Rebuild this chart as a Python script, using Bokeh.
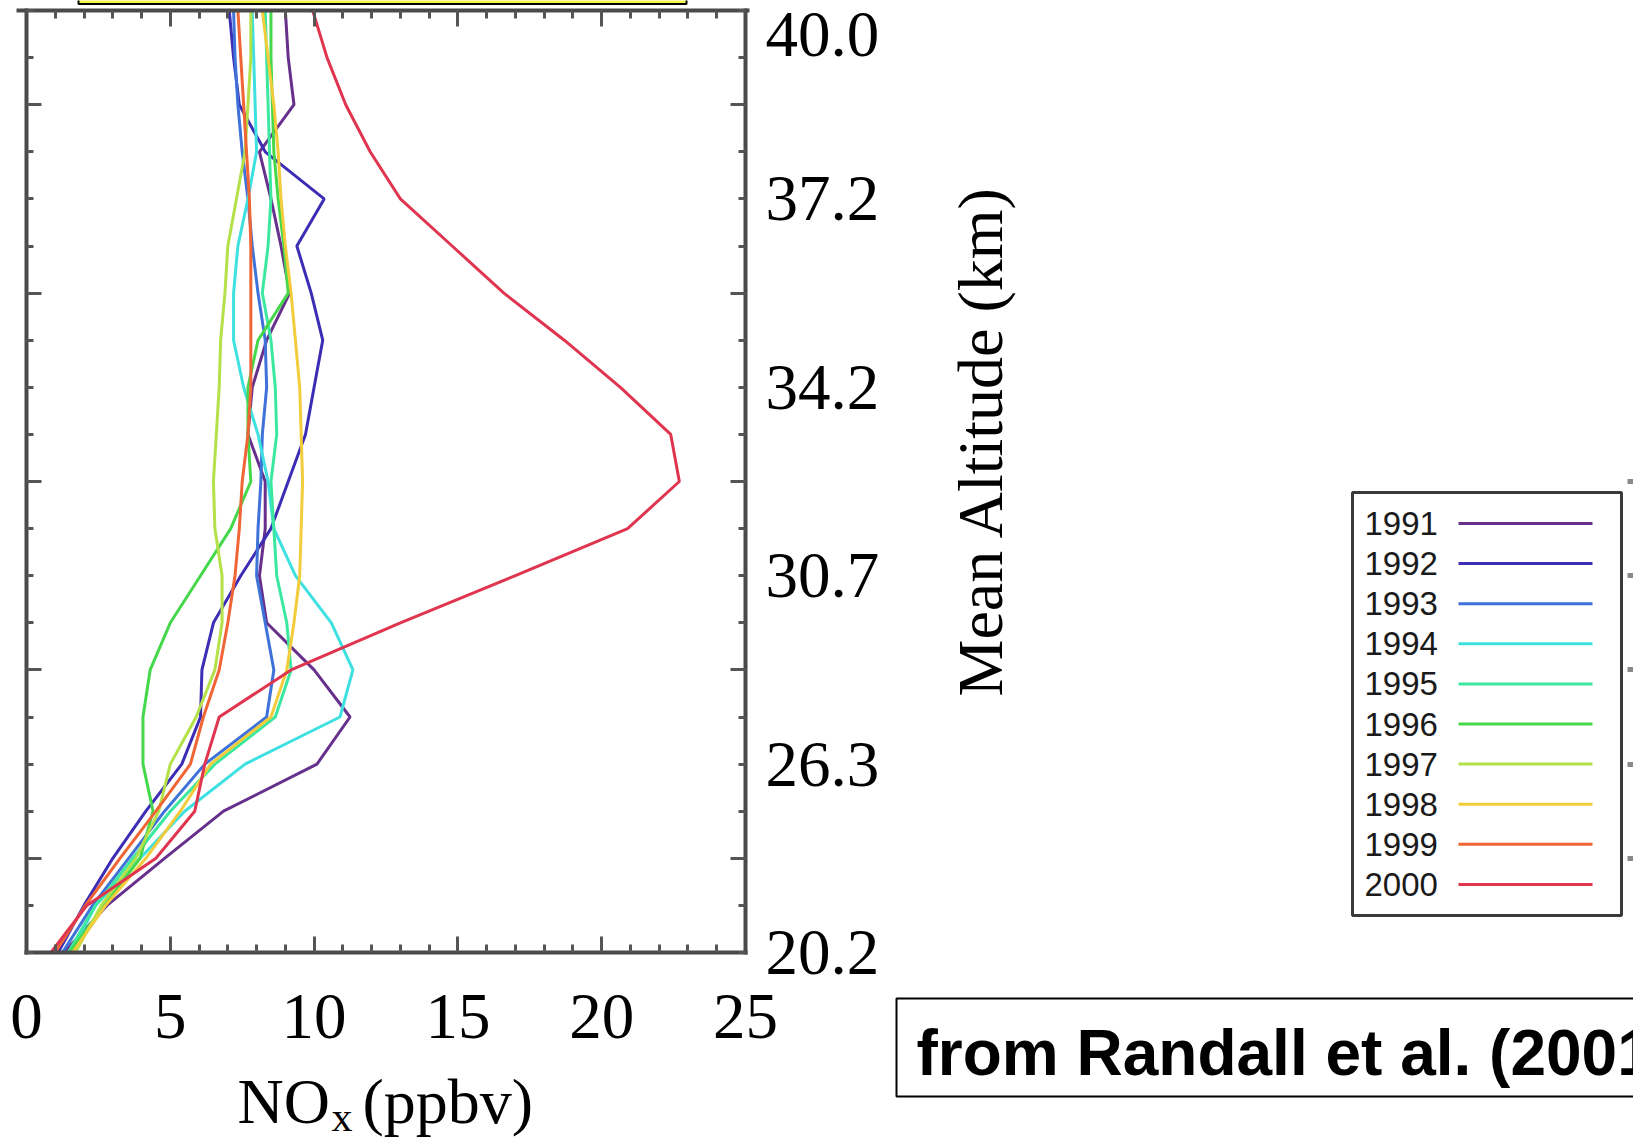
from math import pi
from bokeh.plotting import figure
from bokeh.models import (FixedTicker, LinearAxis, Range1d, Label, BoxAnnotation,
                          Arrow, ColumnDataSource)
from bokeh.embed import file_html
from bokeh.resources import INLINE

# ---------------- data ----------------
years = ["1991", "1992", "1993", "1994", "1995", "1996", "1997", "1998", "1999", "2000"]
colors = ["#66308c", "#3c2db4", "#3f72d9", "#3fe0e0", "#3ce8a0",
          "#44d84a", "#b4e04a", "#f2cc3a", "#f06535", "#e0354f"]

# vertical grid levels (bottom = 20.2 km ... top = 40.0 km)
level_index = list(range(21))

nox_1991 = [1.3, 2.8, 4.8, 6.85, 10.1, 11.25, 10.0, 8.35, 8.1, 8.3, 8.3,
            7.7, 7.85, 8.35, 9.15, 8.85, 8.5, 8.1, 9.3, 9.1, 9.0]
nox_1992 = [1.1, 2.0, 3.0, 4.15, 5.4, 6.05, 6.1, 6.5, 7.45, 8.5, 9.1,
            9.7, 10.0, 10.3, 9.9, 9.4, 10.35, 8.3, 7.4, 7.2, 7.05]
nox_1993 = [1.25, 2.3, 3.55, 4.8, 6.2, 8.35, 8.6, 8.3, 8.0, 8.05, 8.15,
            8.2, 8.35, 8.3, 8.05, 7.85, 7.7, 7.5, 7.35, 7.25, 7.2]
nox_1994 = [1.55, 2.4, 3.95, 5.5, 7.6, 10.9, 11.35, 10.6, 9.35, 8.6, 8.4,
            8.05, 7.55, 7.2, 7.2, 7.35, 7.7, 8.0, 7.95, 7.9, 7.85]
nox_1995 = [1.45, 2.4, 3.7, 5.0, 6.55, 8.65, 9.2, 9.05, 8.7, 8.6, 8.5,
            8.7, 8.65, 8.5, 8.2, 8.4, 8.5, 8.45, 8.4, 8.35, 8.3]
nox_1996 = [1.5, 2.7, 3.95, 4.4, 4.05, 4.05, 4.3, 5.0, 6.05, 7.1, 7.8,
            7.7, 7.7, 8.05, 9.1, 8.95, 8.75, 8.6, 8.55, 8.5, 8.5]
nox_1997 = [1.7, 2.6, 3.8, 4.6, 5.0, 5.9, 6.55, 6.8, 6.8, 6.55, 6.5,
            6.6, 6.7, 6.75, 6.9, 7.0, 7.3, 7.6, 7.7, 7.8, 7.8]
nox_1998 = [1.6, 2.75, 4.15, 5.35, 6.4, 8.5, 9.05, 9.3, 9.5, 9.55, 9.6,
            9.55, 9.5, 9.35, 9.2, 9.0, 8.85, 8.75, 8.6, 8.4, 8.2]
nox_1999 = [1.0, 2.05, 3.25, 4.5, 5.7, 6.15, 6.7, 7.0, 7.25, 7.4, 7.5,
            7.7, 7.8, 7.8, 7.8, 7.8, 7.75, 7.65, 7.55, 7.45, 7.35]
nox_2000 = [0.85, 2.1, 4.5, 5.85, 6.2, 6.7, 9.2, 13.0, 17.0, 20.9, 22.7,
            22.4, 20.65, 18.7, 16.6, 14.8, 13.0, 11.95, 11.1, 10.45, 9.95]
series = [nox_1991, nox_1992, nox_1993, nox_1994, nox_1995,
          nox_1996, nox_1997, nox_1998, nox_1999, nox_2000]

x_major_ticks = [0, 5, 10, 15, 20, 25]
x_minor_ticks = list(range(26))
y_long_ticks = [2, 6, 10, 14, 18]
y_minor_ticks = list(range(21))
alt_tick_levels = [0, 4, 8, 12, 16, 19.5]
alt_tick_labels = ["20.2", "26.3", "30.7", "34.2", "37.2", "40.0"]
neighbour_ticks = [2, 4, 6, 8, 10]

# ---------------- layout constants (canvas pixels) ----------------
W, H = 1633, 1138
FL, FR, FT, FB = 26, 745, 10, 952        # the plot box
X0, X1, Y0, Y1 = 0, 25, 0, 20
PXX = (FR - FL) / (X1 - X0)
PXY = (FB - FT) / (Y1 - Y0)


def dx(px):
    return (px - FL) / PXX + X0


def dy(py):
    return (FB - py) / PXY + Y0


SERIF = "Liberation Serif"
SANS = "Liberation Sans"
TICK_COL = "#555555"
BOX_COL = "#4a4a4a"

p = figure(width=W, height=H,
           x_range=Range1d(dx(0), dx(W)), y_range=Range1d(dy(H), dy(0)),
           output_backend="svg", toolbar_location=None,
           x_axis_location=None, y_axis_location=None,
           min_border=0)
p.min_border_left = p.min_border_right = p.min_border_top = p.min_border_bottom = 0
p.background_fill_color = "white"
p.border_fill_color = "white"
p.outline_line_color = None
p.grid.visible = False
p.xgrid.grid_line_color = None
p.ygrid.grid_line_color = None


def box_axis(loc, bounds, ticks, minors, long_len, short_len):
    ax = LinearAxis(ticker=FixedTicker(ticks=ticks, minor_ticks=minors),
                    fixed_location=loc, bounds=bounds)
    ax.axis_line_color = BOX_COL
    ax.axis_line_width = 4
    ax.axis_line_cap = "square"
    ax.major_tick_in = long_len
    ax.major_tick_out = 0
    ax.minor_tick_in = short_len
    ax.minor_tick_out = 0
    ax.major_tick_line_color = TICK_COL
    ax.minor_tick_line_color = TICK_COL
    ax.major_tick_line_width = 3
    ax.minor_tick_line_width = 3
    return ax


def hide_labels(ax, ticks):
    ax.major_label_overrides = {t: "" for t in ticks}
    ax.major_label_text_font_size = "1px"
    ax.major_label_standoff = 0


# bottom axis (NOx) with labels
xb = box_axis(Y0, (X0, X1), x_major_ticks, x_minor_ticks, 16, 8)
xb.major_label_text_font = SERIF
xb.major_label_text_font_size = "65px"
xb.major_label_text_color = "black"
xb.major_label_standoff = 42
p.add_layout(xb, "below")

# top edge: ticks only (line runs a little past the box, as in the original)
xt = box_axis(Y1, (dx(18), dx(747)), x_major_ticks, x_minor_ticks, 16, 8)
hide_labels(xt, x_major_ticks)
p.add_layout(xt, "above")

# left edge: ticks only
yl = box_axis(X0, (Y0, Y1), y_long_ticks, y_minor_ticks, 15, 7)
hide_labels(yl, y_long_ticks)
p.add_layout(yl, "left")

# right edge: ticks only
yr = box_axis(X1, (Y0, Y1), y_long_ticks, y_minor_ticks, 15, 7)
hide_labels(yr, y_long_ticks)
p.add_layout(yr, "right")

# right: mean altitude labels
ya = LinearAxis(ticker=FixedTicker(ticks=alt_tick_levels, minor_ticks=[]),
                fixed_location=X1, bounds=(Y0, Y1))
ya.axis_line_color = None
ya.major_tick_line_color = None
ya.minor_tick_line_color = None
ya.major_tick_in = ya.major_tick_out = 0
ya.minor_tick_in = ya.minor_tick_out = 0
ya.major_label_overrides = dict(zip(alt_tick_levels, alt_tick_labels))
ya.major_label_text_font = SERIF
ya.major_label_text_font_size = "65px"
ya.major_label_text_color = "black"
ya.major_label_standoff = 20
p.add_layout(ya, "right")

# edge of the neighbouring panel (cut off at the right border of the slide)
yn = LinearAxis(ticker=FixedTicker(ticks=neighbour_ticks, minor_ticks=[]),
                fixed_location=dx(1627), bounds=(2, 10))
yn.axis_line_color = None
yn.major_tick_in = 6
yn.major_tick_out = 0
yn.major_tick_line_color = "#8a8a8a"
yn.major_tick_line_width = 5
hide_labels(yn, neighbour_ticks)
p.add_layout(yn, "left")

# ---------------- profiles ----------------
for yr_name, col, vals in zip(years, colors, series):
    src = ColumnDataSource(dict(nox=vals, level=level_index))
    p.line("nox", "level", source=src, line_color=col, line_width=3)

# ---------------- slide title box (cut off at top) ----------------
p.add_layout(BoxAnnotation(left=dx(78), right=dx(686), top=dy(-8), bottom=dy(3.5),
                           fill_color="#f6f64a", fill_alpha=1.0,
                           line_color="black", line_alpha=1.0, line_width=2))

# ---------------- axis titles ----------------
p.add_layout(Label(x=dx(980), y=dy(440), text="Mean Altitude (km)", angle=pi / 2,
                   text_align="center", text_baseline="middle",
                   text_font=SERIF, text_font_size="64px", text_color="black"))
p.add_layout(Label(x=dx(237), y=dy(1101), text="NO", text_align="left",
                   text_baseline="middle", text_font=SERIF,
                   text_font_size="64px", text_color="black"))
p.add_layout(Label(x=dx(331), y=dy(1116), text="x", text_align="left",
                   text_baseline="middle", text_font=SERIF,
                   text_font_size="42px", text_color="black"))
p.add_layout(Label(x=dx(362), y=dy(1101), text="(ppbv)", text_align="left",
                   text_baseline="middle", text_font=SERIF,
                   text_font_size="64px", text_color="black"))

# ---------------- legend (labels left, line samples right) ----------------
p.add_layout(BoxAnnotation(left=dx(1352), right=dx(1621), top=dy(492), bottom=dy(915),
                           fill_color="white", fill_alpha=1.0,
                           line_color="#3a3a3a", line_alpha=1.0, line_width=3))
for i, (yr_name, col) in enumerate(zip(years, colors)):
    row_y = 523 + 40.1 * i
    p.add_layout(Label(x=dx(1364), y=dy(row_y), text=yr_name, text_align="left",
                       text_baseline="middle", text_font=SANS,
                       text_font_size="33px", text_color="#1a1a1a"))
    p.add_layout(Arrow(x_start=dx(1458), y_start=dy(row_y), x_end=dx(1592),
                       y_end=dy(row_y), end=None, line_color=col, line_width=3))

# ---------------- citation box ----------------
p.add_layout(BoxAnnotation(left=dx(896), right=dx(1700), top=dy(998), bottom=dy(1096),
                           fill_color="white", fill_alpha=1.0,
                           line_color="black", line_alpha=1.0, line_width=2))
p.add_layout(Label(x=dx(916), y=dy(1052), text="from Randall et al. (2001)",
                   text_align="left", text_baseline="middle", text_font=SANS,
                   text_font_style="bold", text_font_size="64px", text_color="black"))

open("out.html", "w").write(file_html(p, INLINE))
